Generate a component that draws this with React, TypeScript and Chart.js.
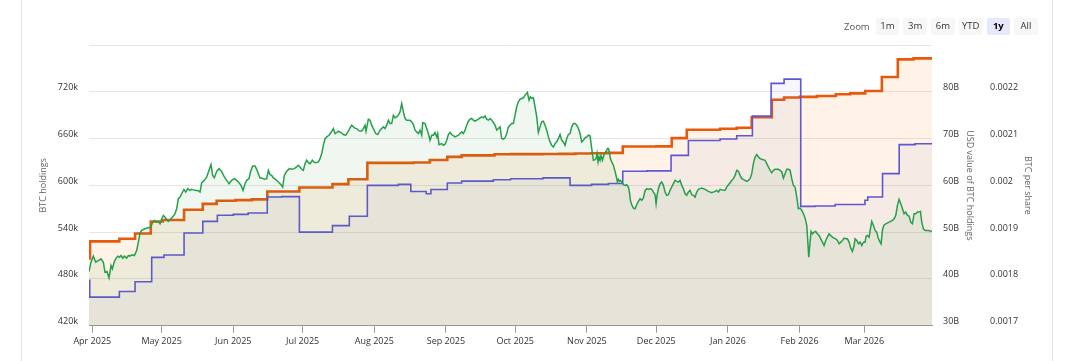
import React, { useEffect, useRef } from 'react';
import { Chart, registerables } from 'chart.js';

Chart.register(...registerables);

// x values are days since 1 Apr 2025
const xMinDay = -1.43;
const xMaxDay = 363.3;
const monthTickDays = [0, 30, 61, 91, 122, 153, 183, 214, 244, 275, 306, 334];
const monthLabels = ['Apr 2025', 'May 2025', 'Jun 2025', 'Jul 2025', 'Aug 2025', 'Sep 2025', 'Oct 2025', 'Nov 2025', 'Dec 2025', 'Jan 2026', 'Feb 2026', 'Mar 2026'];

const zoomButtons = ['1m', '3m', '6m', 'YTD', '1y', 'All'];
const selectedZoom = '1y';

// BTC holdings (left axis), [day, BTC]
const btcHoldings: [number, number][] = [
  [-1.43, 506100], [-1, 528200], [11.7, 531600], [18.5, 538200], [25.3, 553600], [30.5, 555500],
  [39.7, 568800], [47.8, 576200], [53.8, 580300], [62, 581000], [69, 582000], [75.7, 592100],
  [89.6, 597300], [103.9, 601600], [110.8, 607800], [119, 628800], [139, 629400], [146, 632500],
  [153.6, 636500], [159.8, 638500], [174, 639800], [181, 640000], [195, 640300], [202, 640400],
  [209, 640800], [216, 641200], [223, 641700], [229.5, 649900], [244, 650000], [250.7, 660600],
  [257.2, 671300], [271.6, 672500], [278.8, 673800], [285.3, 687400], [294, 709700], [299.3, 712600],
  [306.2, 713500], [313.5, 714600], [321.7, 716800], [327.9, 717900], [334.4, 721000], [341.6, 739000],
  [348.5, 761500], [355.3, 762800], [363.3, 762800],
];

// BTC per share (right axis 2), [day, BTC]
const btcPerShare: [number, number][] = [
  [-1.43, 0.001797], [-1.1, 0.001761], [11.7, 0.001773], [18.5, 0.001794], [25.7, 0.001846], [31, 0.001851],
  [39.7, 0.001898], [47.8, 0.001923], [54.1, 0.001936], [61, 0.001938], [67.4, 0.001941], [75.7, 0.001975],
  [82, 0.001976], [89.6, 0.0019], [103.9, 0.001914], [111.2, 0.001934], [119, 0.002], [132.4, 0.002002],
  [137.8, 0.001987], [144.5, 0.001982], [146.5, 0.001991], [153.6, 0.002005], [159.8, 0.002009], [173.5, 0.002012],
  [181, 0.002014], [195, 0.002016], [206.7, 0.002], [216, 0.002002], [223.3, 0.002004], [229.5, 0.00203],
  [240, 0.002031], [250.4, 0.002064], [257.9, 0.002096], [271.6, 0.002099], [278.8, 0.002106], [285.6, 0.002148],
  [293.7, 0.002218], [299.3, 0.002227], [306.5, 0.001955], [312.7, 0.001956], [321.4, 0.001959], [334.3, 0.001968],
  [335.5, 0.001975], [341.9, 0.002025], [349.1, 0.002087], [356, 0.002089], [363.3, 0.002089],
];

// USD value of BTC holdings (right axis 1), [day, billions USD]
const usdValue: [number, number][] = [
  [-1.43, 41.57], [-0.56, 43.57], [0.45, 44.86], [1.46, 43.57], [2.61, 43.93], [3.76, 44.29], [4.77, 43.57],
  [5.5, 41.43], [6.36, 41.57], [7.23, 40.21], [8.09, 42.86], [8.67, 42.14], [9.53, 43.71], [10.11, 44.29],
  [10.98, 44.86], [11.7, 44.64], [12.42, 45.0], [13.14, 44.43], [13.86, 44.86], [14.87, 44.43], [15.59, 45.0],
  [16.31, 44.86], [17.03, 45.14], [18.19, 45.0], [19.2, 46.07], [19.92, 47.86], [20.64, 49.86], [21.36, 50.36],
  [22.8, 50.71], [24.25, 50.93], [25.26, 51.07], [26.12, 52.14], [26.84, 52.5], [27.85, 52.14], [28.57, 52.29],
  [29.29, 51.79], [30.02, 52.86], [30.74, 53.57], [31.46, 53.21], [32.18, 52.71], [32.9, 52.29], [34.05, 52.86],
  [35.06, 53.43], [35.78, 53.93], [36.51, 55.0], [37.23, 57.14], [37.95, 57.5], [38.67, 58.21], [39.68, 59.14],
  [40.4, 58.57], [41.27, 59.29], [42.27, 58.93], [42.99, 59.14], [44.44, 58.93], [45.88, 58.86], [46.6, 58.57],
  [47.32, 60.57], [48.48, 61.07], [49.49, 61.79], [50.5, 63.21], [51.36, 64.43], [52.08, 62.14], [52.8, 61.64],
  [53.81, 63.0], [54.82, 63.57], [55.98, 63.0], [57.13, 61.79], [58.14, 61.07], [59.15, 60.36], [60.3, 61.07],
  [61.46, 61.43], [62.47, 61.07], [63.48, 60.57], [64.34, 60.0], [65.21, 58.93], [66.07, 60.36], [66.8, 61.07],
  [67.8, 61.43], [68.52, 63.0], [69.39, 64.14], [70.4, 64.14],
  [71.12, 63.43], [71.84, 62.5], [72.56, 61.57], [73.28, 61.57], [74.44, 61.29], [75.45, 61.43], [76.17, 63.21],
  [76.89, 62.29], [77.61, 62.14], [78.33, 61.57], [79.34, 61.29], [80.5, 60.71], [81.65, 60.14], [82.37, 59.64],
  [83.09, 62.14], [84.1, 63.0], [85.26, 63.57], [86.27, 63.43], [87.42, 63.57], [88.43, 63.93], [89.15, 64.29],
  [89.87, 63.93], [90.59, 63.43], [91.31, 63.21], [92.04, 64.64], [92.76, 65.36], [93.48, 64.86], [94.2, 64.64],
  [95.21, 65.36], [96.07, 64.86], [97.08, 64.86], [97.8, 65.0], [98.53, 65.71], [99.25, 66.79], [99.97, 68.57],
  [100.69, 70.0], [101.41, 70.36], [102.42, 70.71], [103.29, 71.29], [104.3, 72.14], [105.02, 71.07], [105.74, 71.29],
  [106.46, 71.57], [107.61, 71.29], [108.62, 70.86], [109.63, 70.71], [110.79, 71.57], [111.51, 72.29], [112.23, 72.86],
  [113.38, 72.29], [114.39, 72.14], [115.4, 71.64], [116.27, 71.57], [116.84, 71.79], [117.28, 72.14], [118.0, 72.86],
  [118.43, 71.57], [119.44, 74.14], [120.16, 73.93], [120.88, 72.86], [121.6, 72.14], [122.61, 71.07], [123.48, 70.86],
  [124.49, 71.79], [125.21, 72.14], [125.93, 72.5], [126.65, 72.14], [127.37, 72.86], [128.09, 73.93], [128.82, 73.21],
  [129.54, 73.21], [130.26, 75.0], [130.98, 74.43], [131.7, 74.64], [132.42, 75.0], [133.14, 75.71], [133.87, 77.5],
  [134.59, 75.71], [135.31, 74.29], [136.03, 73.93], [137.47, 73.93], [138.19, 73.57], [138.91, 73.0], [139.63, 71.79],
  [140.36, 71.43], [141.08, 71.07], [141.8, 71.79], [142.52, 70.71], [142.95, 73.43], [143.96, 73.21],
  [144.68, 72.14], [145.4, 71.07], [146.12, 69.64], [146.85, 70.71], [147.57, 70.71], [148.29, 71.29], [149.01, 70.36],
  [149.44, 71.07], [150.02, 68.71], [151.17, 68.93], [151.89, 68.57], [152.61, 68.79], [153.34, 69.64], [154.06, 70.86],
  [154.78, 71.29], [155.5, 70.86], [156.94, 70.36], [158.38, 70.71], [159.1, 71.07], [159.83, 71.43], [160.55, 71.07],
  [161.27, 71.79], [161.99, 72.86], [162.71, 73.71], [163.43, 74.14], [164.15, 74.29], [164.87, 73.93], [165.6, 73.71],
  [166.32, 73.93], [167.04, 74.14], [167.76, 74.43], [168.48, 74.64], [169.2, 74.43], [169.92, 74.86], [170.64, 74.14],
  [171.37, 73.93], [172.09, 74.29], [172.81, 73.93], [173.53, 73.43], [174.25, 72.86], [174.97, 71.79], [175.69, 72.14],
  [176.41, 72.5], [177.13, 70.0], [177.86, 69.86], [178.58, 70.14], [179.3, 71.07], [180.02, 72.5], [180.74, 72.86],
  [181.46, 73.21], [182.18, 73.21], [182.9, 75.0], [183.63, 76.79], [184.35, 77.86], [185.07, 78.43], [185.79, 78.57],
  [186.51, 78.71], [187.23, 79.29], [188.24, 79.86], [188.96, 78.21], [189.54, 78.93], [190.12, 78.57], [190.84, 78.71],
  [191.56, 76.79], [192.28, 74.64], [193.0, 71.29], [193.72, 72.5], [194.44, 73.57], [195.16, 73.71], [195.88, 72.86],
  [196.61, 71.79], [197.33, 70.36], [198.05, 69.29], [198.77, 68.57], [199.49, 68.21], [200.21, 68.93], [200.93, 69.29],
  [201.65, 70.0], [202.38, 70.86], [203.1, 69.64], [203.82, 69.29], [204.54, 68.57], [205.26, 70.0], [205.98, 70.86],
  [206.7, 71.07], [207.42, 72.5], [208.14, 73.21], [208.87, 73.21], [209.59, 72.86], [210.31, 72.14], [211.03, 71.07],
  [211.75, 69.29], [212.47, 69.64], [213.19, 70.14], [213.91, 70.36], [214.63, 70.71], [215.36, 70.57], [216.08, 67.86],
  [216.8, 65.36], [217.52, 65.5],
  [217.95, 65.71], [218.39, 66.79], [218.82, 65.0], [219.25, 66.07], [219.68, 65.36], [220.12, 66.43], [220.69, 65.36],
  [221.13, 66.07], [221.56, 66.79], [222.28, 67.29], [222.86, 67.86], [223.29, 67.86], [223.72, 67.14], [224.15, 65.71],
  [224.73, 65.0], [225.45, 64.29], [226.17, 63.0], [226.75, 61.79], [227.18, 60.71], [227.62, 61.29], [228.05, 60.86],
  [228.48, 61.07], [229.06, 60.71], [229.78, 60.14], [230.5, 60.0], [231.22, 60.14], [231.94, 59.64], [232.38, 58.57],
  [232.81, 56.79], [233.39, 55.86], [234.11, 55.14], [234.83, 55.0], [235.55, 55.86], [236.27, 56.57], [236.99, 57.14],
  [237.71, 56.79], [238.43, 57.29], [239.16, 58.93], [239.88, 59.29], [240.6, 59.14], [241.32, 59.29], [242.04, 59.14],
  [242.76, 58.57], [243.48, 58.0], [243.92, 56.07], [244.35, 57.86], [244.92, 59.29], [245.65, 60.36], [246.37, 60.71],
  [247.09, 60.0], [247.81, 58.57], [248.53, 57.86], [249.25, 58.0], [249.97, 58.93], [250.69, 59.64], [251.42, 60.36],
  [252.14, 61.07], [252.86, 60.86], [253.58, 60.71], [254.3, 61.07], [255.02, 60.0], [255.74, 59.29], [256.46, 58.21],
  [257.19, 57.86], [257.91, 58.57], [258.63, 58.93], [259.35, 58.0], [260.07, 57.86], [260.79, 57.5], [261.51, 58.57],
  [262.23, 59.14], [262.95, 59.29], [263.68, 59.43], [265.12, 59.14], [266.56, 58.71], [268.0, 58.43], [269.45, 58.71],
  [270.17, 58.93], [270.89, 58.57], [271.61, 59.14], [273.05, 58.93], [273.77, 58.93], [274.49, 59.64], [275.22, 60.14],
  [275.94, 60.57], [276.66, 61.07], [277.38, 61.43], [278.1, 62.14], [278.82, 63.21], [279.54, 63.0], [280.26, 62.14],
  [280.98, 61.43], [281.71, 61.29], [282.43, 61.07], [283.15, 60.86], [283.87, 61.07], [284.59, 61.43], [285.31, 62.5],
  [286.03, 64.64], [286.75, 66.07], [287.48, 66.57], [288.2, 66.07], [288.92, 65.71], [289.64, 65.57], [291.08, 65.36],
  [291.8, 64.64], [292.52, 63.93], [293.24, 63.21], [293.96, 62.71], [294.69, 63.21], [295.41, 63.43], [296.85, 63.43],
  [297.57, 63.21], [298.29, 62.86], [299.01, 61.57], [299.73, 62.5], [300.46, 63.43], [301.18, 63.43], [301.9, 63.21],
  [302.62, 61.43], [303.34, 60.0], [304.06, 59.64], [304.78, 57.5], [305.5, 55.0], [306.22, 55.14], [306.95, 54.64],
  [307.67, 53.93], [308.39, 53.0], [309.11, 51.43], [309.54, 48.21], [309.97, 44.64], [310.55, 47.86], [310.98, 50.14],
  [311.56, 49.64], [312.28, 50.0], [313.0, 50.14], [313.72, 49.64], [314.45, 49.29], [315.17, 48.57], [315.89, 47.86],
  [316.61, 47.14], [317.33, 48.21], [318.05, 48.93], [318.77, 49.64], [319.49, 49.29], [320.22, 48.93], [320.94, 48.71],
  [321.66, 48.57], [322.38, 48.21], [323.1, 47.5], [323.82, 47.86], [324.54, 48.21], [325.26, 48.71], [325.99, 48.57],
  [326.71, 48.57], [327.43, 47.86], [328.15, 46.57], [328.87, 45.86], [329.59, 47.14], [330.02, 48.57], [330.75, 48.21],
  [331.47, 47.5], [332.19, 47.86], [332.91, 47.14], [333.63, 47.86], [334.35, 47.86], [334.78, 49.14], [335.36, 49.29],
  [336.08, 48.93], [336.66, 50.71], [337.24, 52.29], [337.96, 51.43], [338.68, 50.36], [339.4, 50.0], [340.12, 48.57],
  [340.84, 47.86], [341.27, 47.5], [341.85, 50.36], [342.43, 51.43], [343.29, 51.79], [344.74, 52.14], [346.18, 52.5],
  [346.9, 52.86], [347.62, 53.57], [348.34, 55.71], [349.06, 57.0], [349.79, 56.07], [350.51, 55.0], [351.23, 53.93],
  [351.95, 54.29], [352.67, 53.57], [353.39, 53.43], [354.11, 52.14], [354.83, 51.79], [355.56, 53.93], [356.28, 53.93],
  [357.0, 54.29], [357.72, 54.29], [358.3, 54.43], [358.87, 52.14], [359.59, 50.71], [360.31, 50.36], [361.76, 50.36],
  [363.3, 50.14],
];

const leftMin = 420000, leftMax = 780000, leftStep = 60000;
const usdMin = 30, usdMax = 90, usdStep = 10;
const perShareMin = 0.0017, perShareMax = 0.0023, perShareStep = 0.0001;

const FONT = '"Open Sans", "Liberation Sans", Arial, sans-serif';
const ORANGE = '#e8590c';
const PURPLE = '#5f56d2';
const GREEN = '#25a04a';

const toXY = (arr: [number, number][]) => arr.map(([x, y]) => ({ x, y }));

export default function App() {
  const ref = useRef<HTMLCanvasElement>(null);

  useEffect(() => {
    const tickFont = { family: FONT, size: 9 };
    const titleFont = { family: FONT, size: 9 };
    const chart = new Chart(ref.current as HTMLCanvasElement, {
      type: 'line',
      data: {
        datasets: [
          {
            label: 'USD value of BTC holdings',
            data: toXY(usdValue),
            yAxisID: 'y1',
            borderColor: GREEN,
            backgroundColor: 'rgba(47,158,68,0.08)',
            borderWidth: 1.5,
            pointRadius: 0,
            fill: 'start',
            tension: 0,
          },
          {
            label: 'BTC per share',
            data: toXY(btcPerShare),
            yAxisID: 'y2',
            borderColor: PURPLE,
            backgroundColor: 'rgba(95,85,208,0.055)',
            borderWidth: 1.6,
            pointRadius: 0,
            fill: 'start',
            stepped: true,
          },
          {
            label: 'BTC holdings',
            data: toXY(btcHoldings),
            yAxisID: 'y',
            borderColor: ORANGE,
            backgroundColor: 'rgba(253,126,20,0.1)',
            borderWidth: 2.6,
            pointRadius: 0,
            fill: 'start',
            stepped: true,
          },
        ],
      },
      options: {
        animation: false,
        responsive: false,
        maintainAspectRatio: false,
        events: [],
        layout: { padding: { left: 34, right: 33, top: 45, bottom: 0 } },
        plugins: { legend: { display: false }, tooltip: { enabled: false } },
        scales: {
          x: {
            type: 'linear',
            min: xMinDay,
            max: xMaxDay,
            afterBuildTicks: (s: any) => {
              s.ticks = monthTickDays.map((v) => ({ value: v }));
            },
            afterFit: (s: any) => {
              s.height = 35.3;
            },
            ticks: {
              autoSkip: false,
              maxRotation: 0,
              padding: 3,
              color: '#333',
              font: tickFont,
              callback: (_v: any, i: number) => monthLabels[i],
            },
            grid: { drawOnChartArea: false, drawTicks: true, tickLength: 7, color: '#999' },
            border: { display: true, color: '#999' },
          },
          y: {
            position: 'left',
            min: leftMin,
            max: leftMax,
            afterFit: (s: any) => {
              s.width = 55;
            },
            ticks: {
              stepSize: leftStep,
              padding: 11,
              labelOffset: -4,
              color: '#333',
              font: tickFont,
              callback: (v: any) => (v >= leftMax ? '' : `${Math.round(v / 1000)}k`),
            },
            grid: { color: '#e6e6e6', drawTicks: false },
            border: { display: false },
            title: { display: true, text: 'BTC holdings', color: '#666', font: titleFont, padding: { top: 4, bottom: 4 } },
          },
          y1: {
            position: 'right',
            min: usdMin,
            max: usdMax,
            weight: 0,
            afterFit: (s: any) => {
              s.width = 47;
            },
            ticks: {
              stepSize: usdStep,
              padding: 11,
              labelOffset: -4,
              color: '#333',
              font: tickFont,
              callback: (v: any) => (v >= usdMax ? '' : `${v}B`),
            },
            grid: { display: false, drawTicks: false },
            border: { display: false },
            title: { display: true, text: 'USD value of BTC holdings', color: '#666', font: titleFont, padding: { top: 4, bottom: 4 } },
          },
          y2: {
            position: 'right',
            min: perShareMin,
            max: perShareMax,
            weight: 1,
            afterFit: (s: any) => {
              s.width = 58;
            },
            ticks: {
              stepSize: perShareStep,
              padding: 11,
              labelOffset: -4,
              color: '#333',
              font: tickFont,
              callback: (v: any) => (v >= perShareMax - 1e-9 ? '' : String(parseFloat(Number(v).toFixed(4)))),
            },
            grid: { display: false, drawTicks: false },
            border: { display: false },
            title: { display: true, text: 'BTC per share', color: '#666', font: titleFont, padding: { top: 4, bottom: 4 } },
          },
        },
      } as any,
    });
    return () => chart.destroy();
  }, []);

  return (
    <div style={{ position: 'fixed', left: 0, top: 0, width: 1070, height: 361, background: '#fff', fontFamily: FONT, overflow: 'hidden' }}>
      <div style={{ position: 'absolute', left: 21, top: 0, width: 1, height: 361, background: '#e3e3e3' }} />
      <div style={{ position: 'absolute', left: 1052, top: 0, width: 1, height: 361, background: '#e3e3e3' }} />
      <canvas ref={ref} width={1070} height={361} style={{ position: 'absolute', left: 0, top: 0, width: 1070, height: 361 }} />
      <div style={{ position: 'absolute', left: 844, top: 18, height: 17, lineHeight: '17px', fontSize: 9.5, color: '#555' }}>Zoom</div>
      {zoomButtons.map((b, i) => (
        <div
          key={b}
          style={{
            position: 'absolute',
            left: 875.7 + i * 27.7,
            top: 18.3,
            width: 23.6,
            height: 16.7,
            lineHeight: '16.7px',
            textAlign: 'center',
            fontSize: 9.5,
            borderRadius: 2,
            background: b === selectedZoom ? '#e6e9fb' : '#f7f7f7',
            color: b === selectedZoom ? '#000' : '#333',
            fontWeight: b === selectedZoom ? 700 : 400,
          }}
        >
          {b}
        </div>
      ))}
    </div>
  );
}
